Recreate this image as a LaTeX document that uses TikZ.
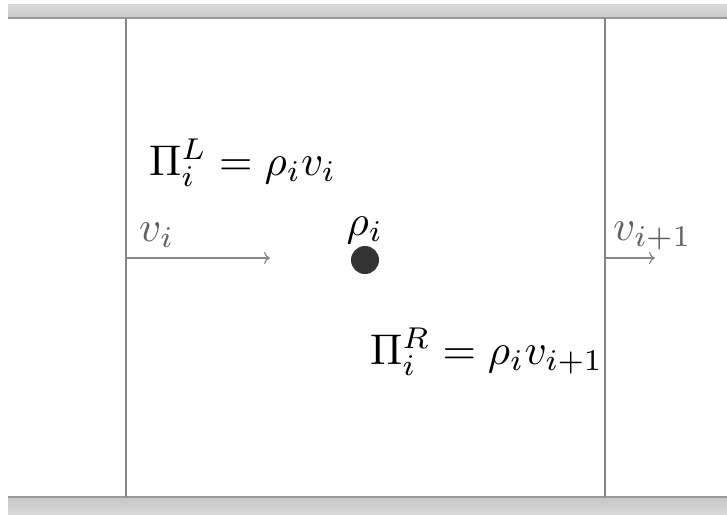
\documentclass[tikz,border=0pt]{standalone}
\usepackage{graphicx}
\usetikzlibrary{arrows.meta}
\newcommand{\myscaledmath}[1]{\scalebox{4.3}{$#1$}}
\begin{document}
\begin{tikzpicture}[x=1pt,y=-1pt,
  wall/.style={draw=gray!95, line width=1.2pt},
  flow/.style={draw=gray!95, line width=1.2pt, -{To[length=6pt,width=12pt]}},
  lbl/.style={inner sep=0pt},
  glbl/.style={lbl, text=black!62}]
\useasboundingbox[fill=white] (0,0) rectangle (727,514);
% bars
\shade[top color=gray!30, bottom color=gray!42] (8,4) rectangle (727,18);
\draw[gray!80, line width=1.5pt] (8,18) -- (727,18);
\shade[top color=gray!45, bottom color=gray!30] (8,497) rectangle (727,514);
\draw[gray!80, line width=1.5pt] (8,497) -- (727,497);
% walls
\coordinate (LT) at (126,18); \coordinate (LB) at (126,497);
\coordinate (RT) at (605,18); \coordinate (RB) at (605,497);
\draw[wall] (LT) -- (LB);
\draw[wall] (RT) -- (RB);
% arrows
\coordinate (a1) at (126,258); \coordinate (a2) at (270,258);
\coordinate (b1) at (605,258); \coordinate (b2) at (655,258);
\draw[flow] (a1) -- (a2);
\draw[flow] (b1) -- (b2);
% particle
\node (dot) [circle, fill=black!80, minimum size=28pt, inner sep=0pt] at (365,260) {};
\node (rho) [lbl, anchor=base] at (365,235) {\myscaledmath{\rho_i}};
\node (vi) [glbl, anchor=base west] at (139,241) {\myscaledmath{v_i}};
\node (vip) [glbl, anchor=base west] at (613,240) {\myscaledmath{v_{i+1}}};
\node (PL) [lbl, anchor=base west] at (149,175) {\myscaledmath{\Pi_i^L = \rho_i v_i}};
\node (PR) [lbl, anchor=base west] at (370,364) {\myscaledmath{\Pi_i^R = \rho_i v_{i+1}}};
\end{tikzpicture}
\end{document}
